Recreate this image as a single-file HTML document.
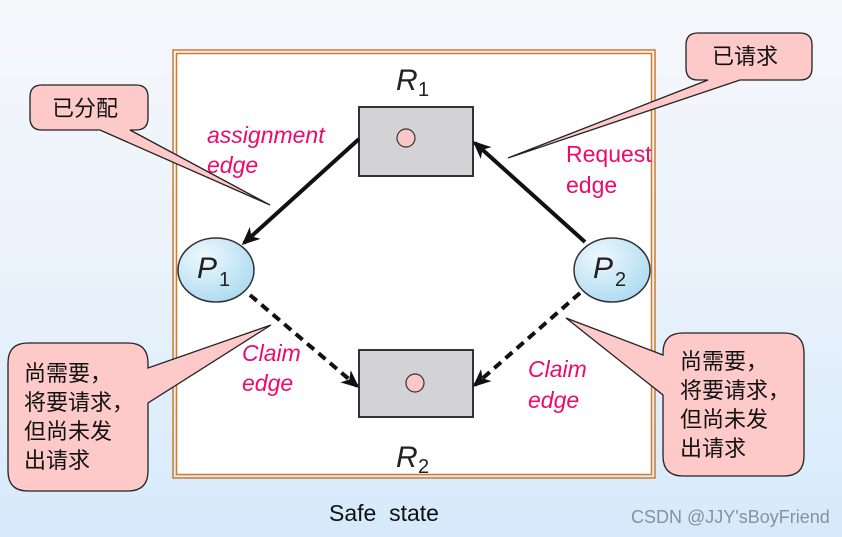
<!DOCTYPE html>
<html><head><meta charset="utf-8"><style>
html,body{margin:0;padding:0}
body{width:842px;height:537px;overflow:hidden;background:linear-gradient(#f6f7fb 0%,#eaf2fb 50%,#d6eafb 100%)}
svg{display:block}
.cn{font-family:"Liberation Sans","Noto Sans CJK SC",sans-serif;font-size:22px;fill:#111}
.pk{font-family:"Liberation Sans",sans-serif;font-size:23px;fill:#ee0a6a}
</style></head><body>
<svg width="842" height="537" viewBox="0 0 842 537">
<defs>
<marker id="ah2" markerWidth="18" markerHeight="18" refX="15" refY="9" orient="auto" markerUnits="userSpaceOnUse" viewBox="0 0 18 18">
<path d="M0,1 L18,9 L0,17 L5,9 Z" fill="#111"/></marker>
<radialGradient id="pg" cx="0.35" cy="0.3" r="0.8"><stop offset="0" stop-color="#eef8fd"/><stop offset="1" stop-color="#a9d9f1"/></radialGradient>
</defs>
<rect x="173" y="50" width="482" height="428" fill="none" stroke="#d07a2a" stroke-width="1.5"/>
<rect x="176.5" y="53.5" width="475" height="421" fill="#fff" stroke="#d07a2a" stroke-width="1.5"/>
<rect x="359" y="107" width="114" height="69" fill="#d3d3d5" stroke="#333" stroke-width="2"/>
<circle cx="406" cy="138" r="9" fill="#fcc7c8" stroke="#333" stroke-width="1.2"/>
<rect x="359" y="350" width="114" height="67" fill="#d3d3d5" stroke="#333" stroke-width="2"/>
<circle cx="415" cy="383" r="9" fill="#fcc7c8" stroke="#333" stroke-width="1.2"/>
<ellipse cx="216" cy="270" rx="38" ry="32" fill="url(#pg)" stroke="#333" stroke-width="1.5"/>
<ellipse cx="612" cy="270" rx="38" ry="32" fill="url(#pg)" stroke="#333" stroke-width="1.5"/>
<g font-family="Liberation Sans,sans-serif" fill="#222">
<text x="197" y="278" font-size="30" font-style="italic">P</text><text x="219" y="286" font-size="20">1</text>
<text x="593" y="278" font-size="30" font-style="italic">P</text><text x="615" y="286" font-size="20">2</text>
<text x="396" y="90" font-size="30" font-style="italic">R</text><text x="418" y="96" font-size="20">1</text>
<text x="396" y="467" font-size="30" font-style="italic">R</text><text x="418" y="473" font-size="20">2</text>
</g>
<line x1="359" y1="139" x2="244" y2="243" stroke="#111" stroke-width="4" marker-end="url(#ah2)"/>
<line x1="585" y1="242" x2="475" y2="143" stroke="#111" stroke-width="4" marker-end="url(#ah2)"/>
<line x1="250" y1="295" x2="357" y2="386" stroke="#111" stroke-width="4" stroke-dasharray="9,6" marker-end="url(#ah2)"/>
<line x1="580" y1="293" x2="475" y2="385" stroke="#111" stroke-width="4" stroke-dasharray="9,6" marker-end="url(#ah2)"/>
<text class="pk" font-style="italic" x="207" y="143">assignment</text>
<text class="pk" font-style="italic" x="207" y="173">edge</text>
<text class="pk" x="566" y="162">Request</text>
<text class="pk" x="566" y="193">edge</text>
<text class="pk" font-style="italic" x="242" y="361">Claim</text>
<text class="pk" font-style="italic" x="242" y="391">edge</text>
<text class="pk" font-style="italic" x="528" y="377">Claim</text>
<text class="pk" font-style="italic" x="528" y="408">edge</text>
<g fill="#fec9c9" stroke="#222" stroke-width="1.3">
<path d="M42,85 H136 Q148,85 148,97 V118 Q148,130 136,130 H130 L270,205 L100,130 H42 Q30,130 30,118 V97 Q30,85 42,85 Z"/>
<path d="M698,33 H800 Q812,33 812,45 V68 Q812,80 800,80 H740 L508,158 L708,80 H698 Q686,80 686,68 V45 Q686,33 698,33 Z"/>
<path d="M28,343 H128 Q148,343 148,363 V368 L271,325 L148,403 V471 Q148,491 128,491 H28 Q8,491 8,471 V363 Q8,343 28,343 Z"/>
<path d="M683,333 H784 Q804,333 804,353 V456 Q804,476 784,476 H683 Q663,476 663,456 V395 L566,318 L663,355 V353 Q663,333 683,333 Z"/>
</g>
<text class="cn" x="52" y="116">已分配</text>
<text class="cn" x="712" y="64">已请求</text>
<text class="cn" x="24" y="381">尚需要，</text>
<text class="cn" x="24" y="410">将要请求，</text>
<text class="cn" x="24" y="439">但尚未发</text>
<text class="cn" x="24" y="468">出请求</text>
<text class="cn" x="680" y="369">尚需要，</text>
<text class="cn" x="680" y="398">将要请求，</text>
<text class="cn" x="680" y="427">但尚未发</text>
<text class="cn" x="680" y="456">出请求</text>
<text x="329" y="521" font-family="Liberation Sans,sans-serif" font-size="23" fill="#111" xml:space="preserve">Safe  state</text>
<text x="631" y="523" font-family="Liberation Sans,sans-serif" font-size="18" fill="#8a909a">CSDN @JJY'sBoyFriend</text>
</svg>
</body></html>
